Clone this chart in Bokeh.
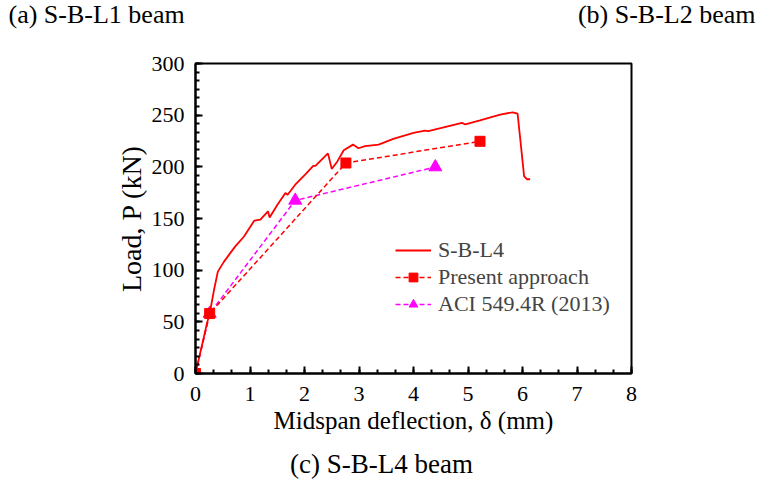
from bokeh.plotting import figure
from bokeh.layouts import column
from bokeh.models import Range1d, Legend, LegendItem, Label, FixedTicker
from bokeh.embed import file_html
from bokeh.resources import INLINE

# S-B-L4 experimental curve
expt_d = [0, 0.21, 0.26, 0.34, 0.41, 0.52, 0.63, 0.73, 0.89, 1.08, 1.19, 1.33, 1.36,
          1.50, 1.65, 1.69, 1.83, 2.02, 2.16, 2.20, 2.43, 2.50, 2.60, 2.72, 2.89, 2.99,
          3.11, 3.36, 3.63, 4.00, 4.21, 4.27, 4.61, 4.89, 4.95, 5.22, 5.59, 5.82, 5.91,
          6.03, 6.08, 6.14]
expt_P = [0, 48.5, 58, 81, 98.6, 108, 116, 123, 132.6, 148, 149, 157, 151,
          163, 174.6, 173, 182.7, 193, 201, 201, 213, 198, 205, 216, 221.5, 218,
          220, 221.5, 227, 232.8, 235, 234.5, 239, 242.5, 241, 245, 250.6, 252.8, 251.5,
          190.8, 188, 188]

# Present approach
pres_d = [0, 0.26, 2.76, 5.22]
pres_P = [0, 58, 203.7, 224.7]

# ACI 549.4R (2013)
aci_d = [0, 0.26, 1.83, 4.40]
aci_P = [0, 58, 167.5, 199.8]

x_ticks = [0, 1, 2, 3, 4, 5, 6, 7, 8]
y_ticks = [0, 50, 100, 150, 200, 250, 300]

captions = ["(a) S-B-L1 beam", "(b) S-B-L2 beam", "(c) S-B-L4 beam"]

FONT = "Liberation Serif"
W = 757


def strip(h):
    s = figure(width=W, height=h, output_backend="svg", toolbar_location=None,
               x_range=Range1d(0, 1), y_range=Range1d(0, 1),
               x_axis_type=None, y_axis_type=None, frame_align=False,
               min_border=0, min_border_left=0, min_border_right=0,
               min_border_top=0, min_border_bottom=0)
    s.grid.visible = False
    s.outline_line_color = None
    s.background_fill_color = "white"
    s.border_fill_color = "white"
    return s


top = strip(40)
top.add_layout(Label(x=8, y=12, x_units="screen", y_units="screen", text=captions[0],
                     text_font=FONT, text_font_size="26px", text_color="black"))
top.add_layout(Label(x=755, y=12, x_units="screen", y_units="screen", text=captions[1],
                     text_font=FONT, text_font_size="26px", text_color="black",
                     text_align="right"))

p = figure(width=W, height=405, output_backend="svg", toolbar_location=None,
           x_range=Range1d(0, 8), y_range=Range1d(0, 300), frame_align=False,
           frame_width=436, frame_height=310,
           min_border_left=195, min_border_right=126, min_border_top=23, min_border_bottom=72)

p.grid.visible = False
p.outline_line_color = "black"
p.outline_line_width = 2
p.background_fill_color = "white"
p.border_fill_color = "white"

aci_line = p.line(aci_d, aci_P, line_color="#ff00ff", line_width=1.5, line_dash="5 3")
aci_pts = p.scatter(aci_d, aci_P, marker="triangle", size=13, fill_color="#ff00ff", line_color="#ff00ff")
expt_line = p.line(expt_d, expt_P, line_color="#ff0000", line_width=1.8)
pres_line = p.line(pres_d, pres_P, line_color="#ff0000", line_width=1.5, line_dash="5 3")
pres_pts = p.scatter(pres_d, pres_P, marker="square", size=10, fill_color="#ff0000", line_color="#ff0000")

for ax in (p.xaxis[0], p.yaxis[0]):
    ax.axis_line_width = 2
    ax.axis_line_color = "black"
    ax.major_tick_in = 7
    ax.major_tick_out = 0
    ax.minor_tick_in = 4
    ax.minor_tick_out = 0
    ax.major_tick_line_width = 2
    ax.minor_tick_line_width = 2
    ax.major_label_text_font = FONT
    ax.major_label_text_font_size = "22px"
    ax.major_label_text_color = "black"
    ax.axis_label_text_font = FONT
    ax.axis_label_text_font_style = "normal"
    ax.axis_label_text_color = "black"

p.xaxis[0].axis_label_text_font_size = "25px"
p.yaxis[0].axis_label_text_font_size = "28px"
p.xaxis[0].ticker = FixedTicker(ticks=x_ticks, minor_ticks=[i / 3 for i in range(0, 25)])
p.yaxis[0].ticker = FixedTicker(ticks=y_ticks, minor_ticks=[i * 50 / 6 for i in range(0, 37)])
p.xaxis[0].major_label_standoff = 13
p.yaxis[0].major_label_standoff = 11
p.xaxis[0].axis_label = "Midspan deflection, δ (mm)"
p.yaxis[0].axis_label = "Load, P (kN)"
p.xaxis[0].axis_label_standoff = 3
p.yaxis[0].axis_label_standoff = 2

legend = Legend(items=[
    LegendItem(label="S-B-L4", renderers=[expt_line]),
    LegendItem(label="Present approach", renderers=[pres_line, pres_pts]),
    LegendItem(label="ACI 549.4R (2013)", renderers=[aci_line, aci_pts]),
], location=(200, 56))
legend.background_fill_alpha = 0
legend.border_line_alpha = 0
legend.label_text_font = FONT
legend.label_text_font_size = "22px"
legend.glyph_width = 36
legend.glyph_height = 22
legend.label_standoff = 7
legend.spacing = 1
legend.padding = 0
legend.margin = 0
p.add_layout(legend, "center")

bottom = strip(47)
bottom.add_layout(Label(x=381, y=14, x_units="screen", y_units="screen", text=captions[2],
                        text_font=FONT, text_font_size="27px", text_color="black",
                        text_align="center"))

layout = column(top, p, bottom, spacing=0)
open("out.html", "w").write(file_html(layout, INLINE))
